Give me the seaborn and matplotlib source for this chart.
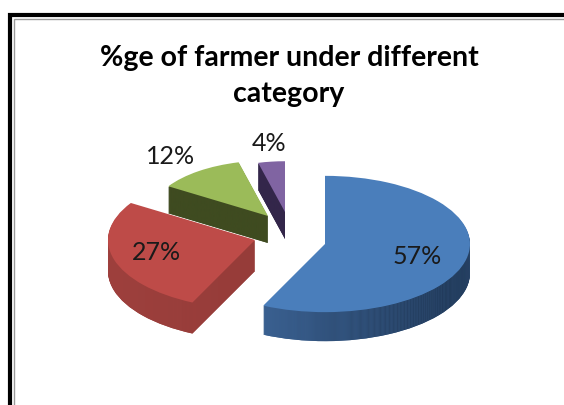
import matplotlib
matplotlib.use("Agg")
import matplotlib.pyplot as plt
import numpy as np
from matplotlib.colors import LinearSegmentedColormap
import seaborn as sns

sns.set_theme(style="white")
plt.rcParams['font.family'] = ['Lato', 'DejaVu Sans']

categories = ["A", "B", "C", "D"]
values = [57, 27, 12, 4]
labels = ["57%", "27%", "12%", "4%"]
top_colors = sns.color_palette(["#4A7EBB", "#BE4B48", "#9BBB59", "#8064A2"])
side_left = ["#3A6090", "#9E403D", "#3F4B20", "#33264A"]
side_right = ["#1D334F", "#8A3835", "#3F4B20", "#33264A"]

# layout in pixels
centers = [(325, 245), (255, 241), (268, 217), (285, 213)]
radii = [145, 147, 118, 108]
depths = [29, 31, 27, 27]
squash = 0.47
label_xy = [(417, 257), (156, 253), (171, 157), (269, 144)]

fig = plt.figure(figsize=(5.64, 4.06), dpi=100, facecolor="white")
ax = fig.add_axes([0, 0, 1, 1])
ymax = 406 / squash
z = 1


def slice_wedge(i, px, py, radius, color):
    wedges, _ = ax.pie(values, startangle=-90, counterclock=True, colors=[color] * 4,
                       center=(px, py / squash), radius=radius, frame=True,
                       wedgeprops={"linewidth": 0})
    for j, w in enumerate(wedges):
        if j != i:
            w.remove()
    return wedges[i]


for i in [3, 2, 1, 0]:
    cx, cy = centers[i]
    R = radii[i]
    cmap = LinearSegmentedColormap.from_list("side", [side_left[i], side_right[i]])
    grad = np.linspace(0, 1, 256).reshape(1, -1)
    for d in range(depths[i], 0, -1):
        w = slice_wedge(i, cx, cy + d, R, side_left[i])
        w.set_zorder(z)
        z += 1
        im = ax.imshow(grad, cmap=cmap, aspect="auto", zorder=z,
                       extent=(cx - 60 if i == 0 else cx - R, cx + R, ymax, 0))
        im.set_clip_path(w)
        z += 1
    top = slice_wedge(i, cx, cy, R, top_colors[i])
    top.set_zorder(z)
    z += 1

ax.set_xlim(0, 564)
ax.set_ylim(ymax, 0)
ax.set_aspect("auto")
ax.axis("off")

# overlay in pixel coordinates for frame and text
ov = fig.add_axes([0, 0, 1, 1], facecolor="none")
ov.set_xlim(0, 564)
ov.set_ylim(406, 0)
ov.axis("off")
ov.plot([10, 10, 564], [406, 16, 16], color="black", lw=3, solid_joinstyle="miter")
ov.plot([13.5, 13.5, 564], [406, 19.5, 19.5], color="#9a9a9a", lw=1, solid_joinstyle="miter")

ov.text(289, 58, "%ge of farmer under different", ha="center", va="center",
        fontsize=20.5, fontweight="bold", color="black")
ov.text(289, 94, "category", ha="center", va="center",
        fontsize=20.5, fontweight="bold", color="black")
for t, (x, y) in zip(labels, label_xy):
    ov.text(x, y, t, ha="center", va="center", fontsize=18, color="#1a1a1a")

fig.savefig("out.png", dpi=100)
